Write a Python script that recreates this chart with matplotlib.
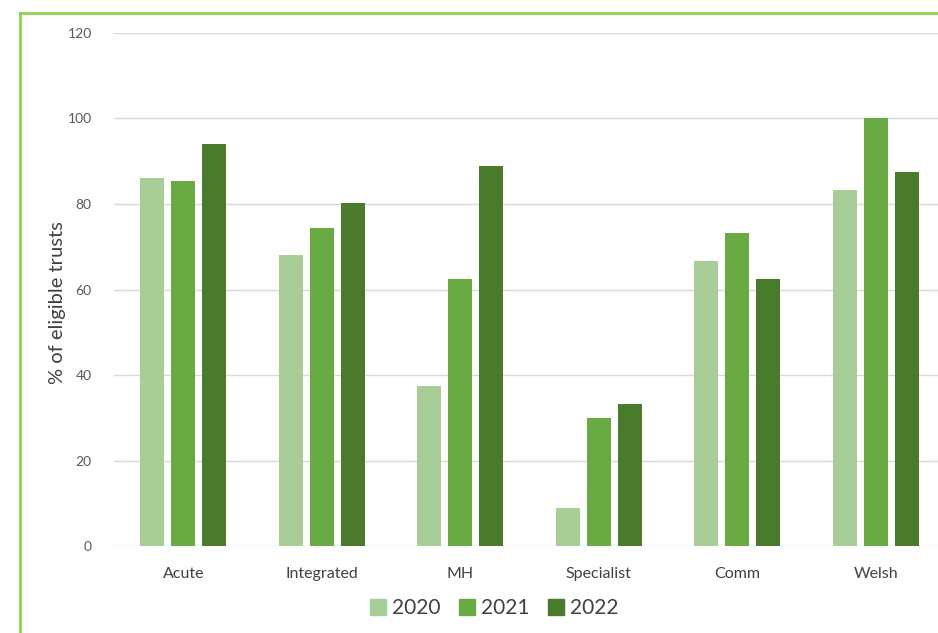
import matplotlib
matplotlib.use("Agg")
import matplotlib.pyplot as plt
import numpy as np
from matplotlib.patches import Patch
from matplotlib.lines import Line2D

plt.rcParams['font.family'] = ['Lato', 'DejaVu Sans']

categories = ["Acute", "Integrated", "MH", "Specialist", "Comm", "Welsh"]
years = ["2020", "2021", "2022"]
vals_2020 = [86, 68, 37.5, 9, 66.7, 83.3]
vals_2021 = [85.4, 74.4, 62.5, 30, 73.3, 100]
vals_2022 = [94, 80.3, 88.9, 33.3, 62.5, 87.5]
colors = ["#a9cd97", "#6aaa42", "#4a7a2c"]

fig = plt.figure(figsize=(9.38, 6.33), dpi=100)
ax = fig.add_axes([0.1215, 0.1374, 0.8785, 0.8105])

x = np.arange(len(categories))
pitch = 0.224
width = 0.173
for i, vals in enumerate([vals_2020, vals_2021, vals_2022]):
    ax.bar(x + (i - 1) * pitch, vals, width, color=colors[i], zorder=3)

ax.set_ylim(0, 120)
ax.set_xlim(-0.5, 5.45)
ax.set_yticks(range(0, 121, 20))
ax.yaxis.grid(True, color="#d9d9d9", linewidth=1, zorder=0)
for s in ax.spines.values():
    s.set_visible(False)
ax.tick_params(axis='y', length=0, pad=16, labelsize=10, labelcolor="#595959")
ax.tick_params(axis='x', length=0, pad=15, labelsize=11.5, labelcolor="#404040")
ax.set_xticks(x)
ax.set_xticklabels(categories)
ax.set_ylabel("% of eligible trusts", fontsize=14.5, color="#404040")
ax.yaxis.set_label_coords(-0.058, 0.474)

handles = [Patch(color=c) for c in colors]
fig.legend(handles, years, loc="center", bbox_to_anchor=(0.527, 0.039), ncol=3,
           frameon=False, fontsize=15, handlelength=0.75, handleheight=0.75,
           handletextpad=0.3, columnspacing=0.9, labelcolor="#404040")

# green frame around the chart
fig.add_artist(Line2D([20/938, 20/938], [0, 1 - 13/633], color="#92d050", linewidth=2,
                      transform=fig.transFigure))
fig.add_artist(Line2D([20/938, 1], [1 - 13/633, 1 - 13/633], color="#92d050", linewidth=2,
                      transform=fig.transFigure))

fig.savefig("out.png", dpi=100)
